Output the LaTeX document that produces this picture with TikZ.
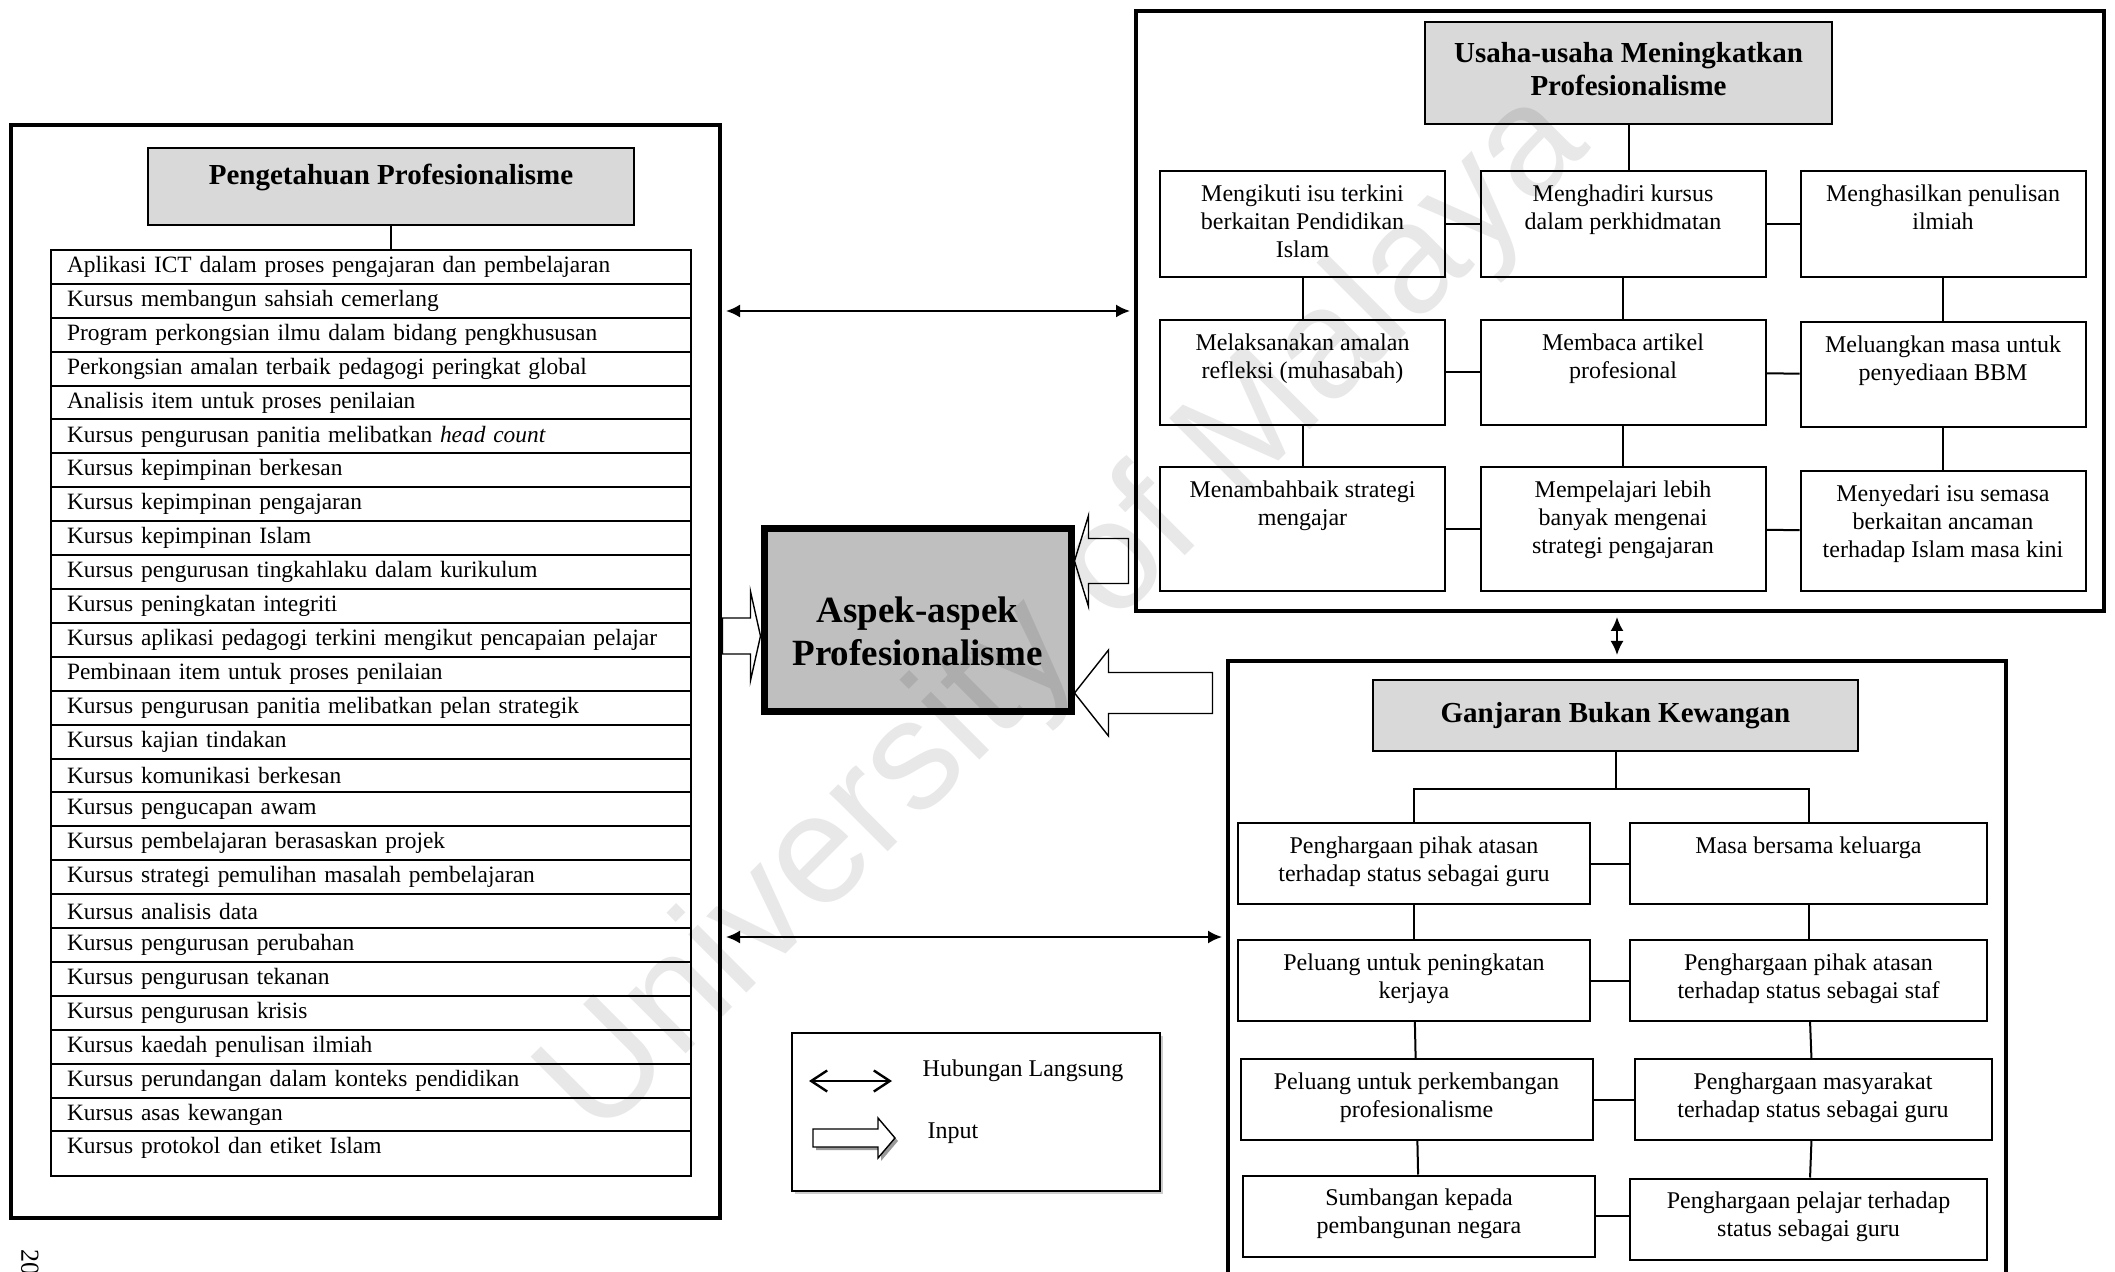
\documentclass[tikz,border=0pt]{standalone}
\usepackage{fontspec}
\setmainfont{Liberation Serif}
\newfontfamily\wmfont{Liberation Sans}
\usepackage{tikz}
\usetikzlibrary{arrows,arrows.meta,calc,positioning,shadows}

\begin{document}
\begin{tikzpicture}[x=0.5pt,y=-0.5pt]
\useasboundingbox (0,0) rectangle (2115,1272);
\clip (0,0) rectangle (2115,1272);
\tikzstyle{panel} = [draw, line width=2pt, inner sep=0pt]
\tikzstyle{head} = [draw, line width=1pt, fill=black!15, align=center, inner sep=0pt, font=\bfseries\fontsize{14.5}{16.5}\selectfont]
\tikzstyle{row} = [draw, line width=1pt, minimum width=320pt, minimum height=16.95pt, text width=304pt, align=left, inner xsep=8pt, inner ysep=0pt, font=\fontsize{11.7}{14}\selectfont]
\tikzstyle{cell} = [draw, line width=1pt, inner sep=0pt, minimum width=142.5pt]
\tikzstyle{gcell} = [draw, line width=1pt, inner sep=0pt, minimum height=40.5pt]
\tikzstyle{celltext} = [anchor=north, yshift=-5pt, inner sep=2pt, align=center, font=\fontsize{12}{14}\selectfont]
\tikzstyle{link} = [line width=1pt]
\tikzstyle{relation} = [line width=1pt, shorten >=2pt, shorten <=2pt, {Latex[length=7pt,width=6.5pt]}-{Latex[length=7pt,width=6.5pt]}]
\tikzstyle{input} = [draw, line width=0.7pt, fill=white, line join=miter]

% panels
\node[panel, minimum width=354.5pt, minimum height=546.5pt] (lp) at (365.5,671.5) {};
\node[panel, minimum width=484pt, minimum height=300pt] (tr) at (1620,311) {};
\node[panel, minimum width=389pt, minimum height=314.5pt] (br) at (1617,975.5) {};

% pengetahuan profesionalisme
\node[head, minimum width=243pt, minimum height=38.5pt, text depth=12.5pt] (pt) at (391,186.5) {Pengetahuan Profesionalisme};
\foreach \txt [count=\i] in {Aplikasi ICT dalam proses pengajaran dan pembelajaran,
  Kursus membangun sahsiah cemerlang,
  Program perkongsian ilmu dalam bidang pengkhususan,
  Perkongsian amalan terbaik pedagogi peringkat global,
  Analisis item untuk proses penilaian,
  {Kursus pengurusan panitia melibatkan \textit{head count}},
  Kursus kepimpinan berkesan,
  Kursus kepimpinan pengajaran,
  Kursus kepimpinan Islam,
  Kursus pengurusan tingkahlaku dalam kurikulum,
  Kursus peningkatan integriti,
  Kursus aplikasi pedagogi terkini mengikut pencapaian pelajar,
  Pembinaan item untuk proses penilaian,
  Kursus pengurusan panitia melibatkan pelan strategik,
  Kursus kajian tindakan,
  Kursus komunikasi berkesan,
  Kursus pengucapan awam,
  Kursus pembelajaran berasaskan projek,
  Kursus strategi pemulihan masalah pembelajaran,
  Kursus analisis data,
  Kursus pengurusan perubahan,
  Kursus pengurusan tekanan,
  Kursus pengurusan krisis,
  Kursus kaedah penulisan ilmiah,
  Kursus perundangan dalam konteks pendidikan,
  Kursus asas kewangan}
  \node[row] (r\i) at (371,{250+33.9*(\i-0.5)}) {\txt};
\node[row, minimum height=22.5pt, label={[row, draw=none, anchor=north]north:Kursus protokol dan etiket Islam}] (r27) at (371,1153.5) {};
\draw[link] (pt.south) -- (pt.south |- r1.north);

% aspek-aspek profesionalisme
\node[draw, line width=3.5pt, fill=black!25, minimum width=153.5pt, minimum height=91pt, label={[align=center, yshift=-5.5pt, font=\bfseries\fontsize{18.5}{21.5}\selectfont]center:Aspek-aspek\\Profesionalisme}] (ctr) at (917.5,620) {};

% usaha-usaha meningkatkan profesionalisme
\node[head, minimum width=203.5pt, minimum height=51pt, label={[align=center, yshift=2pt, font=\bfseries\fontsize{14.5}{16.5}\selectfont]center:Usaha-usaha Meningkatkan\\Profesionalisme}] (ut) at (1628.5,73) {};
\node[cell, minimum height=53pt, label={[celltext]north:Mengikuti isu terkini\\berkaitan Pendidikan\\Islam}] (u11) at (1302.5,224) {};
\node[cell, minimum height=53pt, label={[celltext]north:Menghadiri kursus\\dalam perkhidmatan}] (u12) at (1623,224) {};
\node[cell, minimum height=53pt, label={[celltext]north:Menghasilkan penulisan\\ilmiah}] (u13) at (1943,224) {};
\node[cell, minimum height=52.5pt, label={[celltext]north:Melaksanakan amalan\\refleksi (muhasabah)}] (u21) at (1302.5,372.5) {};
\node[cell, minimum height=52.5pt, label={[celltext]north:Membaca artikel\\profesional}] (u22) at (1623,372.5) {};
\node[cell, minimum height=52.5pt, label={[celltext]north:Meluangkan masa untuk\\penyediaan BBM}] (u23) at (1943,374.5) {};
\node[cell, minimum height=62pt, label={[celltext]north:Menambahbaik strategi\\mengajar}] (u31) at (1302.5,529) {};
\node[cell, minimum height=62pt, label={[celltext]north:Mempelajari lebih\\banyak mengenai\\strategi pengajaran}] (u32) at (1623,529) {};
\node[cell, minimum height=60pt, label={[celltext]north:Menyedari isu semasa\\berkaitan ancaman\\terhadap Islam masa kini}] (u33) at (1943,531) {};
\draw[link] (ut.south) -- (ut.south |- u12.north);
\foreach \r in {1,2,3} {
  \draw[link] (u\r1) -- (u\r2);
  \draw[link] (u\r2) -- (u\r3);
}
\foreach \c in {1,2,3} {
  \draw[link] (u1\c) -- (u2\c);
  \draw[link] (u2\c) -- (u3\c);
}

% ganjaran bukan kewangan
\node[head, minimum width=242.5pt, minimum height=35.5pt] (gt) at (1615.5,715.5) {Ganjaran Bukan Kewangan};
\node[gcell, minimum width=176pt, label={[celltext]north:Penghargaan pihak atasan\\terhadap status sebagai guru}] (g11) at (1414,863.5) {};
\node[gcell, minimum width=178.5pt, label={[celltext]north:Masa bersama keluarga}] (g12) at (1808.5,863.5) {};
\node[gcell, minimum width=176pt, label={[celltext]north:Peluang untuk peningkatan\\kerjaya}] (g21) at (1414,980.5) {};
\node[gcell, minimum width=178.5pt, label={[celltext]north:Penghargaan pihak atasan\\terhadap status sebagai staf}] (g22) at (1808.5,980.5) {};
\node[gcell, minimum width=176pt, label={[celltext]north:Peluang untuk perkembangan\\profesionalisme}] (g31) at (1416.5,1099.5) {};
\node[gcell, minimum width=178.5pt, label={[celltext]north:Penghargaan masyarakat\\terhadap status sebagai guru}] (g32) at (1813,1099.5) {};
\node[gcell, minimum width=176pt, label={[celltext]north:Sumbangan kepada\\pembangunan negara}] (g41) at (1419,1216) {};
\node[gcell, minimum width=178.5pt, label={[celltext]north:Penghargaan pelajar terhadap\\status sebagai guru}] (g42) at (1808.5,1219) {};
\coordinate (gbar) at (1612,789);
\draw[link] (gt.south) -- (gt.south |- gbar);
\draw[link] (g11.north) -- (g11.north |- gbar) -- (g12.north |- gbar) -- (g12.north);
\foreach \r in {1,2,3,4}
  \draw[link] (g\r1.east) -- (g\r1.east -| g\r2.west);
\foreach \c in {1,2} {
  \draw[link] (g1\c) -- (g2\c);
  \draw[link] (g2\c) -- (g3\c);
  \draw[link] (g3\c) -- (g4\c);
}

% hubungan langsung
\coordinate (rb) at (0,937);
\draw[relation] (lp.east |- tr.west) -- (tr.west);
\draw[relation] (lp.east |- rb) -- (br.west |- rb);
\draw[relation] (tr.south -| br.north) -- (br.north);

% input
\coordinate (inL) at (0,636);
\coordinate (inT) at (0,561);
\coordinate (inB) at (0,693);
\draw[input] (ctr.west |- inL) -- ++(-10,-44.5) -- ++(0,26.5) -- ++(-28,0) -- ++(0,36) -- ++(28,0) -- ++(0,26.5) -- cycle;
\draw[input] (ctr.east |- inT) -- ++(14,-45.5) -- ++(0,23) -- ++(40,0) -- ++(0,45) -- ++(-40,0) -- ++(0,23) -- cycle;
\draw[input] (ctr.east |- inB) -- ++(34,-43) -- ++(0,22.5) -- ++(104,0) -- ++(0,41) -- ++(-104,0) -- ++(0,22.5) -- cycle;

% legend
\node[draw, line width=1pt, fill=white, minimum width=184pt, minimum height=79pt, drop shadow={shadow xshift=1.5pt, shadow yshift=-1.5pt, fill=black!40}] (leg) at (976,1112) {};
\node[font=\fontsize{12}{14}\selectfont] (hl) at (1023,1071) {Hubungan Langsung};
\node[font=\fontsize{12}{14}\selectfont] (ip) at (953,1133) {Input};
\coordinate (ka) at (809,1081);
\coordinate (kb) at (892,1081);
\draw[line width=1.2pt, {Straight Barb[length=8pt,width=10.5pt]}-{Straight Barb[length=8pt,width=10.5pt]}] (ka) -- (kb);
\coordinate (kt) at (895,1138);
\fill[black!40] ([shift={(3,3)}]kt) -- ++(-17,-20) -- ++(0,11) -- ++(-65,0) -- ++(0,18) -- ++(65,0) -- ++(0,11) -- cycle;
\draw[input] (kt) -- ++(-17,-20) -- ++(0,11) -- ++(-65,0) -- ++(0,18) -- ++(65,0) -- ++(0,11) -- cycle;

% page number and watermark
\node[rotate=-90, font=\fontsize{13}{13}\selectfont] (pg) at (30,1262) {20};
\node[rotate=45, font=\wmfont\fontsize{78}{78}\selectfont, text=black, text opacity=0.09] (wm) at (1067,616) {University of Malaya};
\end{tikzpicture}
\end{document}
